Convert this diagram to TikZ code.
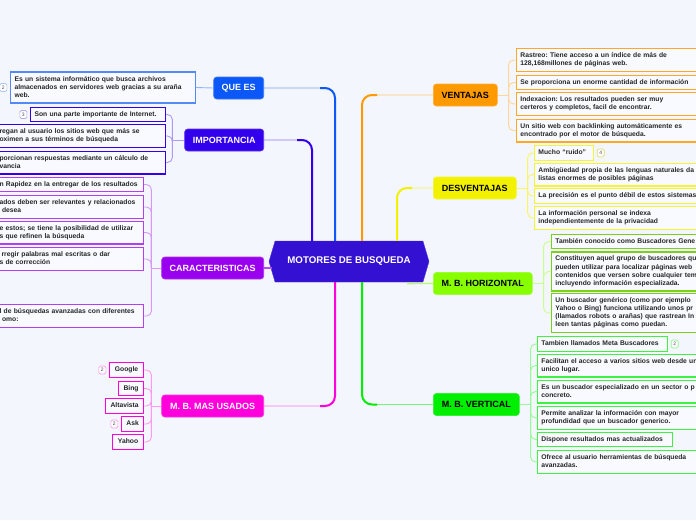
\documentclass[tikz,border=0pt]{standalone}
\usepackage{fontspec}
\setmainfont{Liberation Sans}
\usetikzlibrary{positioning}
\usetikzlibrary{shapes.symbols}
\usetikzlibrary{calc}

\definecolor{bgc}{HTML}{F4F6FD}
\definecolor{leafc}{HTML}{F9FAFF}
\definecolor{cenc}{HTML}{3410D2}
\definecolor{quec}{HTML}{0B57F7}
\definecolor{impc}{HTML}{3300EE}
\definecolor{carc}{HTML}{9900EE}
\definecolor{masc}{HTML}{FF00DD}
\definecolor{venc}{HTML}{FF9900}
\definecolor{desc}{HTML}{F2F200}
\definecolor{horc}{HTML}{88FF00}
\definecolor{verc}{HTML}{00EE00}

\begin{document}
\frenchspacing
\begin{tikzpicture}[
        x = 1pt, y = -1pt,
        topic/.style = {
            rounded corners = 3pt,
            fill = #1,
            draw = #1!80!white,
            line width = 0.6pt,
            text = white,
            font = \bfseries\fontsize{9}{10}\selectfont,
            minimum height = 22pt,
            inner sep = 0pt
        },
        leaf/.style = {
            draw,
            fill = leafc,
            line width = 1.2pt,
            text = black!85,
            font = \bfseries\fontsize{6.75}{8.1}\selectfont,
            align = left,
            text width = #1,
            inner xsep = 3.8pt,
            inner ysep = 3.3pt,
            execute at begin node = \strut,
            execute at end node = \strut
        },
        leaf/.default = 150pt,
        badge/.style = {
            draw = #1,
            fill = white,
            rounded corners = 1.5pt,
            line width = 0.7pt,
            minimum width = 7pt,
            minimum height = 8pt,
            inner sep = 0pt,
            text = black!70,
            font = \fontsize{5}{5}\selectfont
        },
        link/.style = {line width = 2pt, rounded corners = 10pt},
        faint/.style = {line width = 0.8pt, rounded corners = 10pt},
        bracket/.style = {line width = 0.9pt, rounded corners = 5pt}
        ]
%
        \useasboundingbox (0,0) rectangle (696,520);
        \fill[bgc] (0,0) rectangle (696,520);
%
        \node[signal, signal to=east and west, signal pointer angle=147,
              fill=cenc, draw=cenc!85!white, minimum width=160pt, minimum height=41pt,
              inner sep=0pt, text=white, font=\bfseries\fontsize{9.7}{11}\selectfont]
              (cen) at (349,261.5) {MOTORES DE BUSQUEDA};
%
% main topics
        \node[topic=quec, minimum width=50pt, anchor=east] (quees) at (264,88) {QUE ES};
        \node[topic=impc, minimum width=79pt, anchor=east] (imp) at (264,140) {IMPORTANCIA};
        \node[topic=carc, minimum width=102pt, anchor=east] (car) at (264,268) {CARACTERISTICAS};
        \node[topic=masc, minimum width=102pt, anchor=east] (mas) at (264,406) {M. B. MAS USADOS};
        \node[topic=venc, minimum width=64pt, anchor=west, text=black] (ven) at (433,95) {VENTAJAS};
        \node[topic=desc, minimum width=83pt, anchor=west, text=black] (des) at (433,188) {DESVENTAJAS};
        \node[topic=horc, minimum width=99pt, anchor=west, text=black] (hor) at (433,283.5) {M. B. HORIZONTAL};
        \node[topic=verc, minimum width=86pt, anchor=west, text=black] (ver) at (433,404.5) {M. B. VERTICAL};
%
% QUE ES
        \node[leaf=177pt, draw=quec!70, anchor=east] (q1) at (196,87.5)
              {Es un sistema informático que busca archivos\\ almacenados en servidores web gracias a su araña\\ web.};
        \node[badge=quec!35, left=3pt of q1] (bq1) {2};
%
% IMPORTANCIA
        \node[leaf=127pt, draw=impc, anchor=east] (i1) at (166,114.5) {Son una parte importante de Internet.};
        \node[leaf=162pt, draw=impc, anchor=east] (i2) at (166,136)
              {regan al usuario los sitios web que más se\\ oximen a sus términos de búsqueda};
        \node[leaf=162pt, draw=impc, anchor=east] (i3) at (166,162.5)
              {porcionan respuestas mediante un cálculo de\\ vancia};
        \node[badge=impc!35, left=3pt of i1] (bi1) {3};
%
% CARACTERISTICAS
        \node[leaf=140pt, draw=carc!75, anchor=east] (c1) at (144,184.5) {n Rapidez en la entregar de los resultados};
        \node[leaf=140pt, draw=carc!75, anchor=east] (c2) at (144,207)
              {ados deben ser relevantes y relacionados\\ \hspace*{2.5pt}desea};
        \node[leaf=140pt, draw=carc!75, anchor=east] (c3) at (144,232.5)
              {e estos; se tiene la posibilidad de utilizar\\ s que refinen la búsqueda};
        \node[leaf=140pt, draw=carc!75, anchor=east] (c4) at (144,259)
              {\hspace*{2pt}rregir palabras mal escritas o dar\\ s de corrección};
        \node[leaf=140pt, draw=carc!75, anchor=east] (c5) at (144,316)
              {l de búsquedas avanzadas con diferentes\\ \hspace*{2.5pt}omo:};
%
% M. B. MAS USADOS
        \node[leaf=26pt, draw=masc, align=center, anchor=east] (m1) at (144,370) {Google};
        \node[leaf=17pt, draw=masc, align=center, anchor=east] (m2) at (144,388.5) {Bing};
        \node[leaf=30pt, draw=masc, align=center, anchor=east] (m3) at (144,406) {Altavista};
        \node[leaf=14pt, draw=masc, align=center, anchor=east] (m4) at (144,424) {Ask};
        \node[leaf=23pt, draw=masc, align=center, anchor=east] (m5) at (144,442) {Yahoo};
        \node[badge=masc!40, left=3pt of m1] (bm1) {2};
        \node[badge=masc!40, left=3pt of m4] (bm4) {2};
%
% VENTAJAS
        \node[leaf=186pt, draw=venc!85, anchor=west] (v1) at (516,60)
              {Rastreo: Tiene acceso a un índice de más de\\ 128,168millones de páginas web.};
        \node[leaf=186pt, draw=venc!85, anchor=west] (v2) at (516,82.5) {Se proporciona un enorme cantidad de información};
        \node[leaf=186pt, draw=venc!85, anchor=west] (v3) at (516,104)
              {Indexacion: Los resultados pueden ser muy\\ certeros y completos, facil de encontrar.};
        \node[leaf=186pt, draw=venc!85, anchor=west] (v4) at (516,130.5)
              {Un sitio web con backlinking automáticamente es\\ encontrado por el motor de búsqueda.};
%
% DESVENTAJAS
        \node[leaf=51pt, draw=desc!80, anchor=west] (d1) at (534,153) {Mucho “ruido”};
        \node[leaf=190pt, draw=desc!80, anchor=west] (d2) at (534,174.5)
              {Ambigüedad propia de las lenguas naturales da\\ listas enormes de posibles páginas};
        \node[leaf=190pt, draw=desc!80, anchor=west] (d3) at (534,196) {La precisión es el punto débil de estos sistemas};
        \node[leaf=190pt, draw=desc!80, anchor=west] (d4) at (534,218)
              {La información personal se indexa\\ independientemente de la privacidad};
        \node[badge=desc!70!gray!70, right=3pt of d1] (bd1) {4};
%
% M. B. HORIZONTAL
        \node[leaf=180pt, draw=horc!80!black!90, anchor=west] (h1) at (551,241.5) {También conocido como Buscadores Gene};
        \node[leaf=180pt, draw=horc!80!black!90, anchor=west] (h2) at (551,271.5)
              {Constituyen aquel grupo de buscadores qu\\ pueden utilizar para localizar páginas web\\ contenidos que versen sobre cualquier tem\\ incluyendo información especializada.};
        \node[leaf=180pt, draw=horc!80!black!90, anchor=west] (h3) at (551,313)
              {Un buscador genérico (como por ejemplo\\ Yahoo o Bing) funciona utilizando unos pr\\ (llamados robots o arañas) que rastrean In\\ leen tantas páginas como puedan.};
%
% M. B. VERTICAL
        \node[leaf=122pt, draw=verc!75, anchor=west] (t1) at (537,344) {Tambien llamados Meta Buscadores};
        \node[leaf=180pt, draw=verc!75, anchor=west] (t2) at (537,365.5)
              {Facilitan el acceso a varios sitios web desde un\\ unico lugar.};
        \node[leaf=180pt, draw=verc!75, anchor=west] (t3) at (537,391.5)
              {Es un buscador especializado en un sector o p\\ concreto.};
        \node[leaf=180pt, draw=verc!75, anchor=west] (t4) at (537,418)
              {Permite analizar la información con mayor\\ profundidad que un buscador generico.};
        \node[leaf=127pt, draw=verc!75, anchor=west] (t5) at (537,439.5) {Dispone resultados mas actualizados};
        \node[leaf=180pt, draw=verc!75, anchor=west] (t6) at (537,462)
              {Ofrece al usuario herramientas de búsqueda\\ avanzadas.};
        \node[badge=verc!45, right=3pt of t1] (bt1) {2};
%
% links from the centre
        \draw[faint, quec!55] ($(cen.north)+(-14,0)$) |- (quees.east);
        \draw[link, quec] ($(cen.north)+(-14,0)$) |- ($(cen.north |- quees.east)+(-29,0)$);
        \draw[faint, impc!55] ($(cen.north)+(-37,0)$) |- (imp.east);
        \draw[link, impc] ($(cen.north)+(-37,0)$) |- ($(cen.north |- imp.east)+(-52,0)$);
        \draw[faint, venc!55] ($(cen.north)+(13,0)$) |- (ven.west);
        \draw[link, venc] ($(cen.north)+(13,0)$) |- ($(cen.north |- ven.west)+(28,0)$);
        \draw[faint, desc!70] ($(cen.north)+(48,0)$) |- (des.west);
        \draw[link, desc] ($(cen.north)+(48,0)$) |- ($(cen.north |- des.west)+(63,0)$);
        \draw[faint, masc!55] ($(cen.south)+(-14,0)$) |- (mas.east);
        \draw[link, masc] ($(cen.south)+(-14,0)$) |- ($(cen.south |- mas.east)+(-29,0)$);
        \draw[faint, verc!55] ($(cen.south)+(13,0)$) |- (ver.west);
        \draw[link, verc] ($(cen.south)+(13,0)$) |- ($(cen.south |- ver.west)+(28,0)$);
        \draw[line width = 1.2pt, horc!60] ($(cen.south)+(58,1.5)$) -- (hor.west);
        \draw[line width = 1.2pt, carc!70] (car.east) -- ($(cen.west |- car.east)+(3,0)$);
%
% brackets to the leaves
        \draw[bracket, quec!45] (quees.west) -- (q1.east);
%
        \draw[bracket, impc!40] (imp.west) -- ++(-12,0) coordinate (impb);
        \draw[bracket, impc!40] (impb) |- (i1.east);
        \draw[bracket, impc!40] (impb) |- (i2.east);
        \draw[bracket, impc!40] (impb) |- (i3.east);
%
        \draw[bracket, carc!40] (car.west) -- ++(-10,0) coordinate (carb);
        \draw[bracket, carc!40] (carb) |- (c1.east);
        \draw[bracket, carc!40] (carb) |- (c2.east);
        \draw[bracket, carc!40] (carb) |- (c3.east);
        \draw[bracket, carc!40] (carb) |- (c4.east);
        \draw[bracket, carc!40] (carb) |- (c5.east);
%
        \draw[bracket, masc!40] (mas.west) -- ++(-10,0) coordinate (masb);
        \draw[bracket, masc!40] (masb) |- (m1.east);
        \draw[bracket, masc!40] (masb) |- (m2.east);
        \draw[bracket, masc!40] (masb) |- (m3.east);
        \draw[bracket, masc!40] (masb) |- (m4.east);
        \draw[bracket, masc!40] (masb) |- (m5.east);
%
        \draw[bracket, venc!40] (ven.east) -- ++(11,0) coordinate (venb);
        \draw[bracket, venc!40] (venb) |- (v1.west);
        \draw[bracket, venc!40] (venb) |- (v2.west);
        \draw[bracket, venc!40] (venb) |- (v3.west);
        \draw[bracket, venc!40] (venb) |- (v4.west);
%
        \draw[bracket, desc!60] (des.east) -- ++(11,0) coordinate (desb);
        \draw[bracket, desc!60] (desb) |- (d1.west);
        \draw[bracket, desc!60] (desb) |- (d2.west);
        \draw[bracket, desc!60] (desb) |- (d3.west);
        \draw[bracket, desc!60] (desb) |- (d4.west);
%
        \draw[bracket, horc!45] (hor.east) -- ++(11,0) coordinate (horb);
        \draw[bracket, horc!45] (horb) |- (h1.west);
        \draw[bracket, horc!45] (horb) |- (h2.west);
        \draw[bracket, horc!45] (horb) |- (h3.west);
%
        \draw[bracket, verc!40] (ver.east) -- ++(11,0) coordinate (verb);
        \draw[bracket, verc!40] (verb) |- (t1.west);
        \draw[bracket, verc!40] (verb) |- (t2.west);
        \draw[bracket, verc!40] (verb) |- (t3.west);
        \draw[bracket, verc!40] (verb) |- (t4.west);
        \draw[bracket, verc!40] (verb) |- (t5.west);
        \draw[bracket, verc!40] (verb) |- (t6.west);
%
\end{tikzpicture}
\end{document}
